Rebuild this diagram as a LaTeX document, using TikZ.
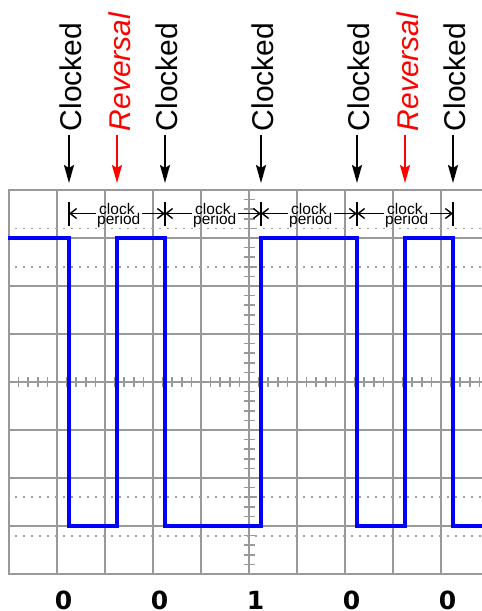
\documentclass[tikz,border=0pt]{standalone}
\usepackage{fontspec}
\setmainfont{Liberation Sans}
\newfontfamily\digitfont{DejaVu Sans}
\usetikzlibrary{arrows.meta}
\definecolor{gridgray}{HTML}{999999}
\definecolor{dotgray}{HTML}{A0A0A0}
\begin{document}
\begin{tikzpicture}[x=1pt,y=-1pt,
  gridline/.style={draw=gridgray, line width=2.2pt},
  tickline/.style={draw=gridgray, line width=1.6pt},
  dotline/.style={draw=dotgray, line width=1.8pt, dash pattern=on 1.8pt off 6.2pt},
  wave/.style={draw=blue, line width=4pt, line join=miter},
  periodline/.style={draw=black, line width=1.4pt},
  periodbar/.style={draw=black, line width=2pt},
  periodtip/.style={-{Straight Barb[length=6.5pt,width=10pt]}},
  periodtext/.style={font=\fontsize{15.5}{15}\selectfont, inner xsep=1.5pt, inner ysep=0pt, anchor=base west},
  clockarrow/.style={draw=black, line width=2pt, -{Stealth[length=18pt,width=10pt,inset=3pt]}},
  revarrow/.style={clockarrow, draw=red},
  clocklabel/.style={rotate=90, anchor=base west, inner sep=0pt, font=\fontsize{30}{36}\selectfont},
  revlabel/.style={rotate=90, anchor=base west, inner sep=0pt, text=red, font=\fontsize{30}{36}\selectfont\itshape},
  bitlabel/.style={anchor=base, inner sep=0pt, font=\digitfont\bfseries\fontsize{25}{30}\selectfont}
]
\useasboundingbox (0,0) rectangle (482,611);

% grid
\foreach \c in {0,...,9} \draw[gridline] ({9+48*\c},190) -- ({9+48*\c},574);
\foreach \r in {0,...,8} \draw[gridline] (8,{190+48*\r}) -- (484,{190+48*\r});

% axis ticks
\foreach \c in {0,...,9} \foreach \k in {1,...,4}
  \draw[tickline] ({9+48*\c+9.6*\k},377) -- ({9+48*\c+9.6*\k},387);
\foreach \r in {0,...,7} \foreach \k in {1,...,4}
  \draw[tickline] (243.5,{190+48*\r+9.6*\k}) -- (254.5,{190+48*\r+9.6*\k});

% dotted reference lines
\foreach \yy in {228.4,266.8,497.2,535.6} \draw[dotline] (15,\yy) -- (484,\yy);

% waveform
\draw[wave] (7.5,238) -- (69,238) -- (69,526) -- (117,526) -- (117,238) -- (165,238)
  -- (165,526) -- (261,526) -- (261,238) -- (357,238) -- (357,526) -- (405,526)
  -- (405,238) -- (453,238) -- (453,526) -- (484,526);

% clock period markers
\foreach \i in {0,...,4} {
  \coordinate (a\i) at ({69+96*\i},213.5);
  \draw[periodbar] ({69+96*\i},202) -- ({69+96*\i},225.5);
}
\foreach \i in {0,...,3} {
  \node[periodtext] (ck\i) at ({97.5+96*\i},214.3) {clock};
  \node[periodtext] (pd\i) at ({95.5+96*\i},224.7) {period};
}
\foreach \i/\j in {0/1,1/2,2/3,3/4} {
  \draw[periodline, periodtip] (pd\i.west |- a\i) -- (a\i);
  \draw[periodline, periodtip] (pd\i.east |- a\i) -- (a\j);
}

% event arrows and labels
\foreach \i/\xx in {0/69,1/165,2/261,3/357,4/453} {
  \coordinate (s\i) at (\xx,135);
  \coordinate (t\i) at (\xx,183);
  \draw[clockarrow] (s\i) -- (t\i);
  \node[clocklabel] (cl\i) at ({\xx+12},131.5) {Clocked};
}
\foreach \i/\xx in {0/117,1/405} {
  \coordinate (rs\i) at (\xx,135);
  \coordinate (rt\i) at (\xx,183);
  \draw[revarrow] (rs\i) -- (rt\i);
  \node[revlabel] (rl\i) at ({\xx+13.5},131.5) {Reversal};
}

% bit values
\node[bitlabel] (b0) at (63.5,609) {0};
\node[bitlabel] (b1) at (159.5,609) {0};
\node[bitlabel] (b2) at (255.5,609) {1};
\node[bitlabel] (b3) at (351.5,609) {0};
\node[bitlabel] (b4) at (447.5,609) {0};
\end{tikzpicture}
\end{document}
